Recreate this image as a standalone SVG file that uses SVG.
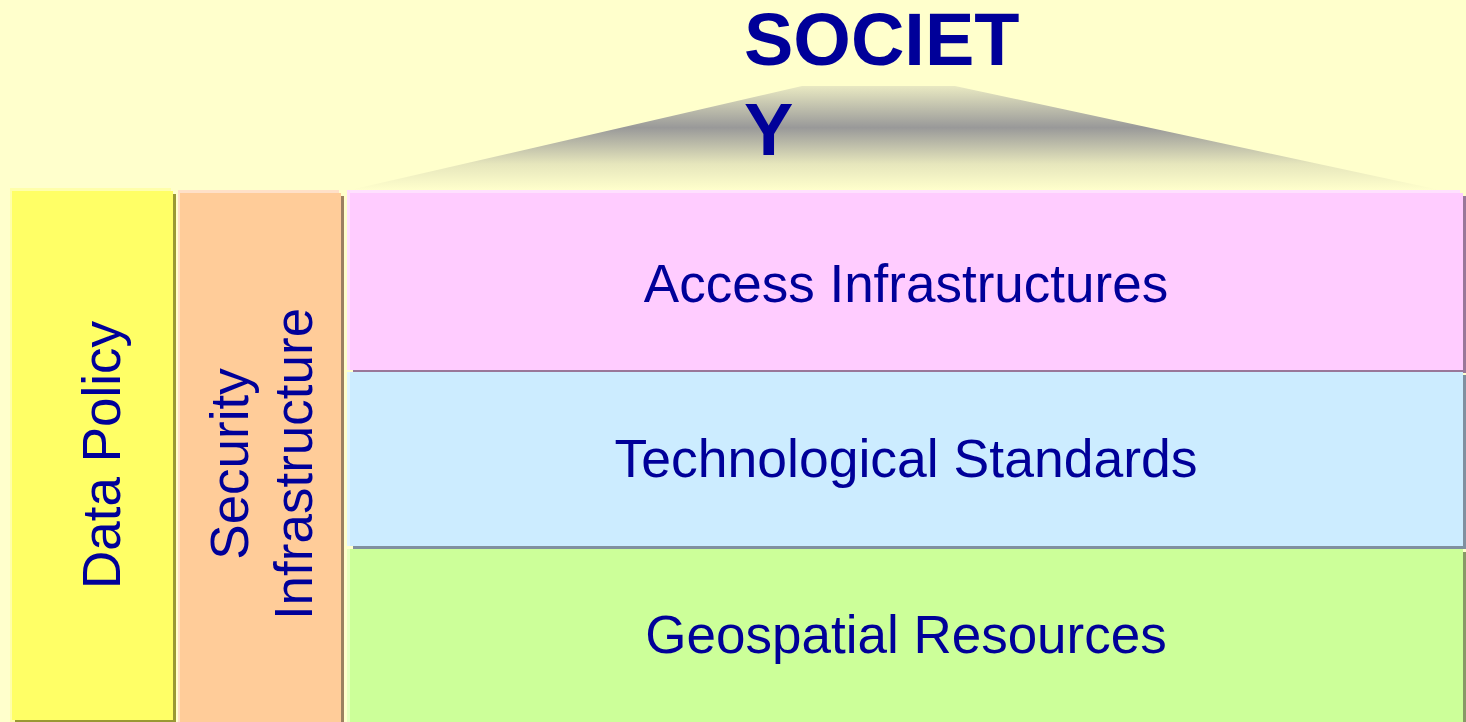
<svg xmlns="http://www.w3.org/2000/svg" width="1466" height="722" viewBox="0 0 1466 722">
  <defs>
    <linearGradient id="roof" x1="0" y1="86" x2="0" y2="190" gradientUnits="userSpaceOnUse">
      <stop offset="0" stop-color="#E9E9C2"/>
      <stop offset="0.4" stop-color="#999999"/>
      <stop offset="0.75" stop-color="#E6E6BC"/>
      <stop offset="1" stop-color="#FFFFCC"/>
    </linearGradient>
  </defs>
  <style>
    .lbl { font-family: "Liberation Sans", Arial, sans-serif; font-size: 53px; fill: #000099; }
    .title { font-family: "Liberation Sans", Arial, sans-serif; font-size: 74px; font-weight: bold; fill: #000099; }
  </style>
  <rect x="0" y="0" width="1466" height="722" fill="#FFFFCC"/>

  <g id="roof-shape">
    <polygon points="350,190 802,86 955,86 1440,190" fill="url(#roof)"/>
  </g>

  <g id="society">
    <text class="title" x="744" y="65">SOCIET</text>
    <text class="title" x="744" y="155">Y</text>
  </g>

  <g id="highlights">
    <rect x="10" y="188" width="161" height="534" fill="#FFFFAA"/>
    <rect x="178" y="190" width="161" height="532" fill="#FFE0C8"/>
    <rect x="347" y="190" width="1113" height="180" fill="#FFE0FF"/>
    <rect x="347" y="372" width="3" height="174" fill="#E0F4FF"/>
    <rect x="347" y="549" width="3" height="173" fill="#E6FFC0"/>
  </g>

  <g id="data-policy">
    <rect x="15" y="194" width="161" height="530" fill="#999933"/>
    <rect x="12" y="191" width="161" height="529" fill="#FFFF66"/>
    <text class="lbl" text-anchor="middle" transform="translate(120,455) rotate(-90)">Data Policy</text>
  </g>

  <g id="security-infrastructure">
    <rect x="183" y="196" width="161" height="528" fill="#9C8060"/>
    <rect x="180" y="193" width="161" height="529" fill="#FFCC99"/>
    <text class="lbl" text-anchor="middle" transform="translate(248,464) rotate(-90)">Security</text>
    <text class="lbl" text-anchor="middle" transform="translate(312,464) rotate(-90)">Infrastructure</text>
  </g>

  <g id="access-infrastructures">
    <rect x="353" y="196" width="1113" height="177" fill="#997799"/>
    <rect x="350" y="193" width="1113" height="177" fill="#FFCCFF"/>
    <text class="lbl" text-anchor="middle" x="906" y="302">Access Infrastructures</text>
  </g>

  <g id="technological-standards">
    <rect x="353" y="375" width="1113" height="174" fill="#8090A0"/>
    <rect x="350" y="372" width="1113" height="174" fill="#CCECFF"/>
    <text class="lbl" text-anchor="middle" x="906" y="477" style="font-size:53.5px">Technological Standards</text>
  </g>

  <g id="geospatial-resources">
    <rect x="353" y="552" width="1113" height="175" fill="#889966"/>
    <rect x="350" y="549" width="1113" height="175" fill="#CCFF99"/>
    <text class="lbl" text-anchor="middle" x="906" y="653">Geospatial Resources</text>
  </g>

  <g id="connectors"></g>
</svg>
